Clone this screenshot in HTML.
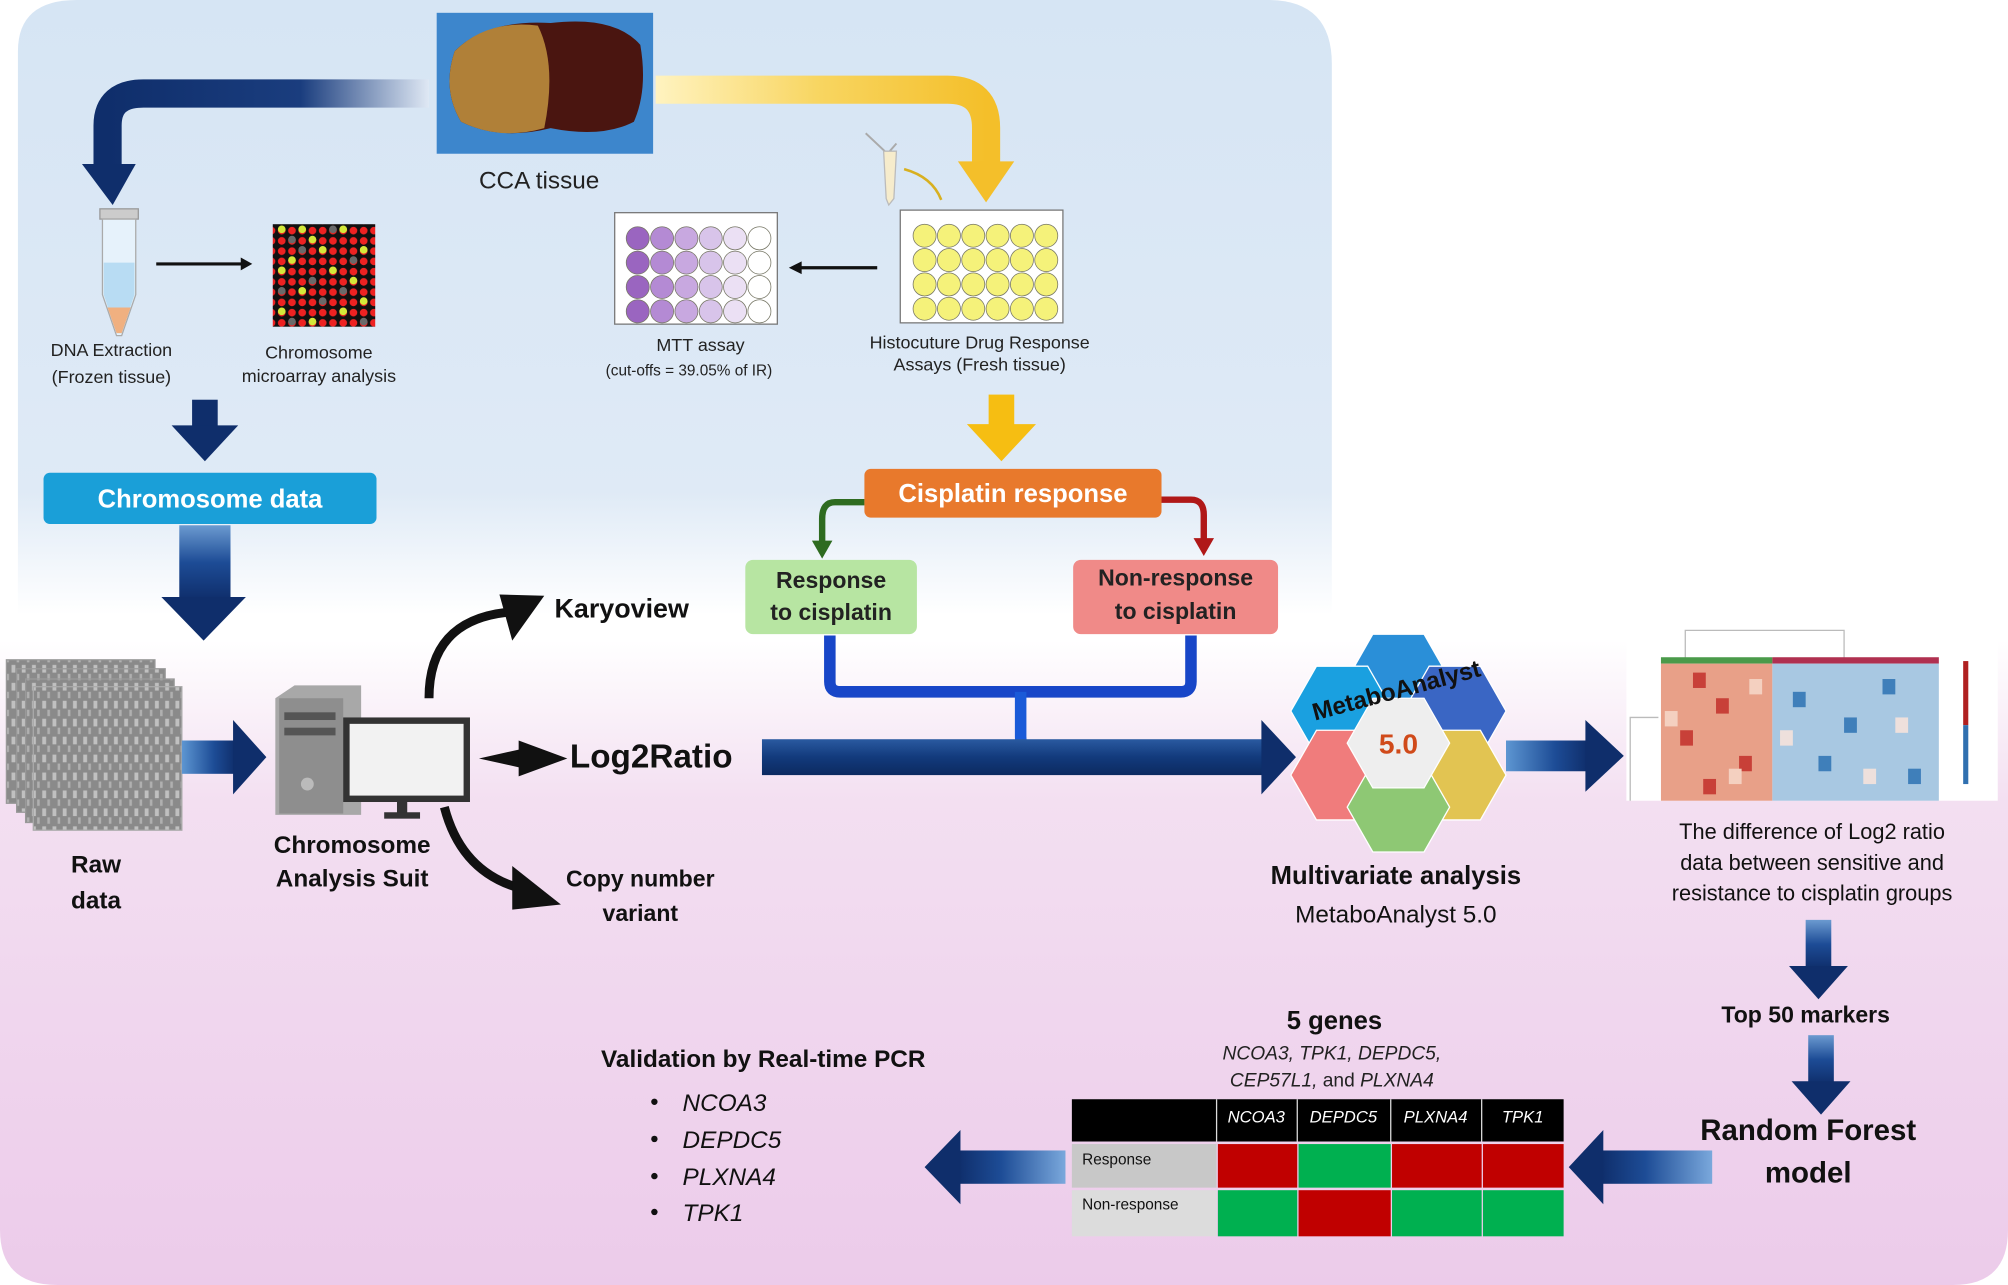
<!DOCTYPE html>
<html><head><meta charset="utf-8"><style>
html,body{margin:0;padding:0;background:#fff;}
svg{display:block;}
text{font-family:"Liberation Sans",sans-serif;}
</style></head><body>
<svg width="2008" height="1285" viewBox="0 0 1568 1003" preserveAspectRatio="none" xmlns="http://www.w3.org/2000/svg">
<defs>
<linearGradient id="bgTop" x1="0" y1="0" x2="0" y2="1">
<stop offset="0" stop-color="#d6e5f4"/><stop offset="0.8" stop-color="#dfeaf6"/><stop offset="1" stop-color="#ffffff"/></linearGradient>
<linearGradient id="bgBot" x1="0" y1="0" x2="0" y2="1">
<stop offset="0" stop-color="#ffffff"/><stop offset="0.25" stop-color="#f3dff1"/><stop offset="1" stop-color="#eccbea"/></linearGradient>
<linearGradient id="navyL" x1="0" y1="0" x2="1" y2="0">
<stop offset="0" stop-color="#0f2e6b"/><stop offset="0.6" stop-color="#1a3d7e"/><stop offset="1" stop-color="#dfe8f4"/></linearGradient>
<linearGradient id="yelR" x1="0" y1="0" x2="1" y2="0">
<stop offset="0" stop-color="#fff3c0"/><stop offset="0.5" stop-color="#f8d560"/><stop offset="1" stop-color="#f4bf2a"/></linearGradient>
<linearGradient id="navyV" x1="0" y1="0" x2="0" y2="1">
<stop offset="0" stop-color="#6b9ad0"/><stop offset="0.5" stop-color="#1d4c96"/><stop offset="1" stop-color="#0f2e6b"/></linearGradient>
<linearGradient id="navyH" x1="0" y1="0" x2="1" y2="0">
<stop offset="0" stop-color="#5d96d2"/><stop offset="0.6" stop-color="#1d4c96"/><stop offset="1" stop-color="#0f2e6b"/></linearGradient>
<linearGradient id="navyHL" x1="1" y1="0" x2="0" y2="0">
<stop offset="0" stop-color="#7aa8dc"/><stop offset="0.6" stop-color="#1d4c96"/><stop offset="1" stop-color="#0f2e6b"/></linearGradient>
<linearGradient id="bigH" x1="0" y1="0" x2="0" y2="1">
<stop offset="0" stop-color="#2a5aa0"/><stop offset="0.5" stop-color="#123a7c"/><stop offset="1" stop-color="#0c2a60"/></linearGradient>
<pattern id="raw" width="8" height="14" patternUnits="userSpaceOnUse">
<rect width="8" height="14" fill="#8a8a8a"/><rect x="1" y="1" width="3" height="6" fill="#c0c0c0"/><rect x="5" y="8" width="2" height="5" fill="#b0b0b0"/></pattern>
<pattern id="mic" width="8" height="8" patternUnits="userSpaceOnUse">
<rect width="8" height="8" fill="#111"/><circle cx="4" cy="4" r="3" fill="#e22"/></pattern>
</defs>

<path d="M0 500 H1568 V960 Q1568 1003 1525 1003 H45 Q0 1003 0 960 Z" fill="url(#bgBot)"/>
<path d="M14 480 V40 Q14 0 60 0 H990 Q1040 0 1040 50 V480 Z" fill="url(#bgTop)"/>

<rect x="341" y="10" width="169" height="110" fill="#3d86cc"/>
<path d="M355 40 Q380 15 430 18 Q480 12 500 35 Q506 70 495 95 Q470 108 430 100 Q390 110 360 95 Q345 70 355 40Z" fill="#4a1510"/>
<path d="M355 40 Q380 15 420 20 Q435 50 425 100 Q390 110 360 95 Q345 70 355 40Z" fill="#b08038"/>
<text x="421" y="147" font-size="19" text-anchor="middle" fill="#222">CCA tissue</text>

<path d="M335 73 H112 Q84 73 84 98 V130" fill="none" stroke="url(#navyL)" stroke-width="22"/>
<polygon points="64,128 106,128 88,160" fill="#0f2e6b"/>
<path d="M512 70 H740 Q770 70 770 100 V128" fill="none" stroke="url(#yelR)" stroke-width="22"/>
<polygon points="748,126 792,126 770,158" fill="#f4bf2a"/>

<rect x="78" y="163" width="30" height="8" fill="#ccc" stroke="#999"/>
<path d="M80 171 H106 V230 L95 262 H91 L80 230Z" fill="#e6f2fb" stroke="#aaa"/>
<path d="M81 205 H105 V230 L95 260 H91 L81 230Z" fill="#b8dcf3"/>
<path d="M84 240 H102 L95 260 H91Z" fill="#f0b080"/>
<line x1="122" y1="206" x2="190" y2="206" stroke="#111" stroke-width="2.5"/>
<polygon points="188,201 197,206 188,211" fill="#111"/>
<rect x="213" y="175" width="80" height="80" fill="url(#mic)"/>
<g fill="#d4e83a"><circle cx="220" cy="179" r="3"/><circle cx="244" cy="187" r="3"/><circle cx="268" cy="179" r="3"/><circle cx="228" cy="203" r="3"/><circle cx="260" cy="211" r="3"/><circle cx="236" cy="227" r="3"/><circle cx="276" cy="219" r="3"/><circle cx="252" cy="195" r="3"/><circle cx="284" cy="195" r="3"/><circle cx="220" cy="243" r="3"/><circle cx="268" cy="243" r="3"/><circle cx="284" cy="235" r="3"/><circle cx="244" cy="251" r="3"/><circle cx="236" cy="179" r="3"/><circle cx="220" cy="211" r="3"/></g>
<g fill="#6a6a6a"><circle cx="228" cy="187" r="3"/><circle cx="260" cy="179" r="3"/><circle cx="276" cy="203" r="3"/><circle cx="244" cy="219" r="3"/><circle cx="252" cy="235" r="3"/><circle cx="228" cy="251" r="3"/><circle cx="284" cy="251" r="3"/><circle cx="236" cy="195" r="3"/><circle cx="268" cy="227" r="3"/><circle cx="220" cy="227" r="3"/></g>
<text x="87" y="278" font-size="14" text-anchor="middle" fill="#222">DNA Extraction</text>
<text x="87" y="299" font-size="14" text-anchor="middle" fill="#222">(Frozen tissue)</text>
<text x="249" y="280" font-size="14" text-anchor="middle" fill="#222">Chromosome</text>
<text x="249" y="298" font-size="14" text-anchor="middle" fill="#222">microarray analysis</text>

<path d="M676 104 L693 120 L700 112" fill="none" stroke="#aaa" stroke-width="1.5"/>
<path d="M690 118 L700 118 L698 155 L694 160 L692 155Z" fill="#f6eccc" stroke="#bbb"/>
<path d="M706 132 Q728 138 735 156" fill="none" stroke="#d8b020" stroke-width="2"/>
<rect x="480" y="166" width="127" height="87" fill="#fff" stroke="#777"/>
<g stroke="#776" stroke-width="0.6">
<g fill="#9a65c0"><circle cx="498" cy="186" r="9"/><circle cx="498" cy="205" r="9"/><circle cx="498" cy="224" r="9"/><circle cx="498" cy="243" r="9"/></g>
<g fill="#b48ad4"><circle cx="517" cy="186" r="9"/><circle cx="517" cy="205" r="9"/><circle cx="517" cy="224" r="9"/><circle cx="517" cy="243" r="9"/></g>
<g fill="#c8a8e0"><circle cx="536" cy="186" r="9"/><circle cx="536" cy="205" r="9"/><circle cx="536" cy="224" r="9"/><circle cx="536" cy="243" r="9"/></g>
<g fill="#d8c4ea"><circle cx="555" cy="186" r="9"/><circle cx="555" cy="205" r="9"/><circle cx="555" cy="224" r="9"/><circle cx="555" cy="243" r="9"/></g>
<g fill="#ebe0f4"><circle cx="574" cy="186" r="9"/><circle cx="574" cy="205" r="9"/><circle cx="574" cy="224" r="9"/><circle cx="574" cy="243" r="9"/></g>
<g fill="#fff"><circle cx="593" cy="186" r="9"/><circle cx="593" cy="205" r="9"/><circle cx="593" cy="224" r="9"/><circle cx="593" cy="243" r="9"/></g>
</g>
<line x1="685" y1="209" x2="624" y2="209" stroke="#111" stroke-width="2.5"/>
<polygon points="626,204 616,209 626,214" fill="#111"/>
<text x="547" y="274" font-size="14" text-anchor="middle" fill="#222">MTT assay</text>
<text x="538" y="293" font-size="12" text-anchor="middle" fill="#222">(cut-offs = 39.05% of IR)</text>
<rect x="703" y="164" width="127" height="88" fill="#fff" stroke="#777"/>
<g fill="#f5f27a" stroke="#776" stroke-width="0.6">
<circle cx="722" cy="184" r="9"/><circle cx="741" cy="184" r="9"/><circle cx="760" cy="184" r="9"/><circle cx="779" cy="184" r="9"/><circle cx="798" cy="184" r="9"/><circle cx="817" cy="184" r="9"/>
<circle cx="722" cy="203" r="9"/><circle cx="741" cy="203" r="9"/><circle cx="760" cy="203" r="9"/><circle cx="779" cy="203" r="9"/><circle cx="798" cy="203" r="9"/><circle cx="817" cy="203" r="9"/>
<circle cx="722" cy="222" r="9"/><circle cx="741" cy="222" r="9"/><circle cx="760" cy="222" r="9"/><circle cx="779" cy="222" r="9"/><circle cx="798" cy="222" r="9"/><circle cx="817" cy="222" r="9"/>
<circle cx="722" cy="241" r="9"/><circle cx="741" cy="241" r="9"/><circle cx="760" cy="241" r="9"/><circle cx="779" cy="241" r="9"/><circle cx="798" cy="241" r="9"/><circle cx="817" cy="241" r="9"/>
</g>
<text x="765" y="272" font-size="14" text-anchor="middle" fill="#222">Histocuture Drug Response</text>
<text x="765" y="289" font-size="14" text-anchor="middle" fill="#222">Assays (Fresh tissue)</text>

<rect x="150" y="312" width="20" height="22" fill="#0f2e6b"/>
<polygon points="134,332 186,332 160,360" fill="#0f2e6b"/>
<rect x="772" y="308" width="20" height="25" fill="#f6be12"/>
<polygon points="755,331 809,331 782,360" fill="#f6be12"/>

<rect x="34" y="369" width="260" height="40" rx="5" fill="#1a9fd8"/>
<text x="164" y="396" font-size="20" font-weight="bold" text-anchor="middle" fill="#fff">Chromosome data</text>
<rect x="140" y="410" width="40" height="58" fill="url(#navyV)"/>
<polygon points="126,466 192,466 159,500" fill="#0f2e6b"/>

<path d="M675 392 H652 Q642 392 642 405 V424" fill="none" stroke="#2e6b20" stroke-width="5"/>
<polygon points="634,422 650,422 642,436" fill="#2e6b20"/>
<path d="M907 390 H930 Q940 390 940 402 V422" fill="none" stroke="#b01818" stroke-width="5"/>
<polygon points="932,420 948,420 940,434" fill="#b01818"/>
<rect x="675" y="366" width="232" height="38" rx="5" fill="#e8792c"/>
<text x="791" y="392" font-size="20" font-weight="bold" text-anchor="middle" fill="#fff">Cisplatin response</text>
<rect x="582" y="437" width="134" height="58" rx="6" fill="#b7e5a2"/>
<text x="649" y="459" font-size="18" font-weight="bold" text-anchor="middle" fill="#222">Response</text>
<text x="649" y="484" font-size="18" font-weight="bold" text-anchor="middle" fill="#222">to cisplatin</text>
<rect x="838" y="437" width="160" height="58" rx="6" fill="#f08a88"/>
<text x="918" y="457" font-size="18" font-weight="bold" text-anchor="middle" fill="#222">Non-response</text>
<text x="918" y="483" font-size="18" font-weight="bold" text-anchor="middle" fill="#222">to cisplatin</text>

<path d="M648 496 V532 Q648 540 656 540 H922 Q930 540 930 532 V496" fill="none" stroke="#1846c8" stroke-width="9"/>
<path d="M797 540 V575 Q797 590 812 590 H848" fill="none" stroke="#1a5ad8" stroke-width="9"/>
<polygon points="845,578 866,590 845,602" fill="#2a78e8"/>

<rect x="5" y="515" width="116" height="112" fill="url(#raw)" stroke="#999"/>
<rect x="13" y="522" width="116" height="112" fill="url(#raw)" stroke="#999"/>
<rect x="20" y="530" width="116" height="112" fill="url(#raw)" stroke="#999"/>
<rect x="26" y="536" width="116" height="112" fill="url(#raw)" stroke="#aaa"/>
<text x="75" y="681" font-size="19" font-weight="bold" text-anchor="middle" fill="#111">Raw</text>
<text x="75" y="709" font-size="19" font-weight="bold" text-anchor="middle" fill="#111">data</text>
<rect x="142" y="578" width="42" height="26" fill="url(#navyH)"/>
<polygon points="182,562 208,591 182,620" fill="#0f2e6b"/>

<path d="M215 545 L230 535 L282 535 L282 636 L215 636Z" fill="#a8a8a8"/>
<rect x="218" y="545" width="50" height="90" fill="#8e8e8e"/>
<rect x="222" y="556" width="40" height="6" fill="#555"/>
<rect x="222" y="568" width="40" height="6" fill="#555"/>
<circle cx="240" cy="612" r="5" fill="#bbb"/>
<rect x="268" y="560" width="99" height="66" fill="#333"/>
<rect x="273" y="565" width="89" height="56" fill="#f2f2f2"/>
<rect x="310" y="626" width="8" height="10" fill="#333"/>
<rect x="300" y="634" width="28" height="5" fill="#333"/>
<text x="275" y="666" font-size="19" font-weight="bold" text-anchor="middle" fill="#111">Chromosome</text>
<text x="275" y="692" font-size="19" font-weight="bold" text-anchor="middle" fill="#111">Analysis Suit</text>

<path d="M335 545 Q335 485 395 478" fill="none" stroke="#111" stroke-width="7"/>
<polygon points="390,464 425,465 400,500" fill="#111"/>
<polygon points="374,592 410,584 440,592 410,600" fill="#111"/>
<polygon points="405,578 443,592 405,606" fill="#111"/>
<path d="M347 630 Q360 680 405 693" fill="none" stroke="#111" stroke-width="7"/>
<polygon points="400,676 438,706 400,710" fill="#111"/>
<text x="433" y="482" font-size="21" font-weight="bold" fill="#111">Karyoview</text>
<text x="445" y="599" font-size="26" font-weight="bold" fill="#111">Log2Ratio</text>
<text x="500" y="692" font-size="18" font-weight="bold" text-anchor="middle" fill="#111">Copy number</text>
<text x="500" y="719" font-size="18" font-weight="bold" text-anchor="middle" fill="#111">variant</text>

<rect x="595" y="577" width="393" height="28" fill="url(#bigH)"/>
<polygon points="985,562 1012,591 985,620" fill="#0f2e6b"/>

<g stroke="#fff" stroke-width="1">
<polygon points="1072,495 1112,495 1132,530 1112,565 1072,565 1052,530" fill="#2a8fd8"/>
<polygon points="1028,520 1068,520 1088,555 1068,590 1028,590 1008,555" fill="#1aa0e0"/>
<polygon points="1116,520 1156,520 1176,555 1156,590 1116,590 1096,555" fill="#3a66c4"/>
<polygon points="1028,570 1068,570 1088,605 1068,640 1028,640 1008,605" fill="#f07c7c"/>
<polygon points="1116,570 1156,570 1176,605 1156,640 1116,640 1096,605" fill="#e2c452"/>
<polygon points="1072,595 1112,595 1132,630 1112,665 1072,665 1052,630" fill="#8ec874"/>
<polygon points="1072,545 1112,545 1132,580 1112,615 1072,615 1052,580" fill="#eeeeee"/>
</g>
<text x="1092" y="588" font-size="22" font-weight="bold" text-anchor="middle" fill="#d04a1a">5.0</text>
<text x="1092" y="545" font-size="19" font-weight="bold" text-anchor="middle" fill="#111" transform="rotate(-15 1092 545)">MetaboAnalyst</text>
<text x="1090" y="690" font-size="20" font-weight="bold" text-anchor="middle" fill="#111">Multivariate analysis</text>
<text x="1090" y="720" font-size="19" text-anchor="middle" fill="#111">MetaboAnalyst 5.0</text>
<rect x="1176" y="578" width="64" height="24" fill="url(#navyH)"/>
<polygon points="1238,562 1268,590 1238,618" fill="#0f2e6b"/>

<rect x="1270" y="490" width="290" height="135" fill="#fff"/>
<path d="M1316 515 V492 H1440 V515" fill="none" stroke="#bbb"/>
<path d="M1295 560 H1273 V625" fill="none" stroke="#bbb"/>
<rect x="1297" y="513" width="87" height="5" fill="#4a9a4a"/>
<rect x="1384" y="513" width="130" height="5" fill="#b03050"/>
<rect x="1297" y="518" width="87" height="107" fill="#e8a088"/>
<rect x="1384" y="518" width="130" height="107" fill="#a8c8e2"/>
<g fill="#c84038"><rect x="1322" y="525" width="10" height="12"/><rect x="1340" y="545" width="10" height="12"/><rect x="1312" y="570" width="10" height="12"/><rect x="1358" y="590" width="10" height="12"/><rect x="1330" y="608" width="10" height="12"/></g>
<g fill="#f4d0c0"><rect x="1300" y="555" width="10" height="12"/><rect x="1366" y="530" width="10" height="12"/><rect x="1350" y="600" width="10" height="12"/></g>
<g fill="#3f7fba"><rect x="1400" y="540" width="10" height="12"/><rect x="1440" y="560" width="10" height="12"/><rect x="1470" y="530" width="10" height="12"/><rect x="1420" y="590" width="10" height="12"/><rect x="1490" y="600" width="10" height="12"/></g>
<g fill="#eee0dc"><rect x="1390" y="570" width="10" height="12"/><rect x="1455" y="600" width="10" height="12"/><rect x="1480" y="560" width="10" height="12"/></g>
<rect x="1533" y="516" width="4" height="50" fill="#b02020"/>
<rect x="1533" y="566" width="4" height="46" fill="#3070b0"/>
<text x="1415" y="655" font-size="17" text-anchor="middle" fill="#111">The difference of Log2 ratio</text>
<text x="1415" y="679" font-size="17" text-anchor="middle" fill="#111">data between sensitive and</text>
<text x="1415" y="703" font-size="17" text-anchor="middle" fill="#111">resistance to cisplatin groups</text>
<rect x="1410" y="718" width="20" height="38" fill="url(#navyV)"/>
<polygon points="1397,754 1443,754 1420,780" fill="#0f2e6b"/>
<text x="1410" y="798" font-size="18" font-weight="bold" text-anchor="middle" fill="#111">Top 50 markers</text>
<rect x="1412" y="808" width="20" height="38" fill="url(#navyV)"/>
<polygon points="1399,844 1445,844 1422,870" fill="#0f2e6b"/>
<text x="1412" y="890" font-size="23" font-weight="bold" text-anchor="middle" fill="#111">Random Forest</text>
<text x="1412" y="923" font-size="23" font-weight="bold" text-anchor="middle" fill="#111">model</text>
<rect x="1250" y="898" width="87" height="26" fill="url(#navyHL)"/>
<polygon points="1252,882 1225,911 1252,940" fill="#0f2e6b"/>

<rect x="837" y="858" width="384" height="33" fill="#000"/>
<g stroke="#ddd" stroke-width="1"><line x1="950" y1="858" x2="950" y2="891"/><line x1="1013" y1="858" x2="1013" y2="891"/><line x1="1086" y1="858" x2="1086" y2="891"/><line x1="1157" y1="858" x2="1157" y2="891"/></g>
<g font-size="13" font-style="italic" fill="#fff" text-anchor="middle"><text x="981" y="876">NCOA3</text><text x="1049" y="876">DEPDC5</text><text x="1121" y="876">PLXNA4</text><text x="1189" y="876">TPK1</text></g>
<rect x="837" y="893" width="113" height="34" fill="#c8c8c8"/>
<rect x="837" y="929" width="113" height="36" fill="#dcdcdc"/>
<rect x="951" y="893" width="62" height="34" fill="#c00000"/>
<rect x="1014" y="893" width="72" height="34" fill="#00b050"/>
<rect x="1087" y="893" width="70" height="34" fill="#c00000"/>
<rect x="1158" y="893" width="63" height="34" fill="#c00000"/>
<rect x="951" y="929" width="62" height="36" fill="#00b050"/>
<rect x="1014" y="929" width="72" height="36" fill="#c00000"/>
<rect x="1087" y="929" width="70" height="36" fill="#00b050"/>
<rect x="1158" y="929" width="63" height="36" fill="#00b050"/>
<text x="845" y="909" font-size="12" fill="#111">Response</text>
<text x="845" y="944" font-size="12" fill="#111">Non-response</text>
<text x="1042" y="803" font-size="20" font-weight="bold" text-anchor="middle" fill="#111">5 genes</text>
<text x="1040" y="827" font-size="15" font-style="italic" text-anchor="middle" fill="#222">NCOA3, TPK1, DEPDC5,</text>
<text x="1040" y="848" font-size="15" font-style="italic" text-anchor="middle" fill="#222">CEP57L1, <tspan font-style="normal">and</tspan> PLXNA4</text>
<rect x="748" y="898" width="84" height="26" fill="url(#navyHL)"/>
<polygon points="750,882 722,911 750,940" fill="#0f2e6b"/>

<text x="596" y="833" font-size="19" font-weight="bold" text-anchor="middle" fill="#111">Validation by Real-time PCR</text>
<g font-size="19" font-style="italic" fill="#111">
<circle cx="511" cy="860" r="2.5"/><text x="533" y="867">NCOA3</text>
<circle cx="511" cy="889" r="2.5"/><text x="533" y="896">DEPDC5</text>
<circle cx="511" cy="918" r="2.5"/><text x="533" y="925">PLXNA4</text>
<circle cx="511" cy="946" r="2.5"/><text x="533" y="953">TPK1</text>
</g>
</svg>
</body></html>
